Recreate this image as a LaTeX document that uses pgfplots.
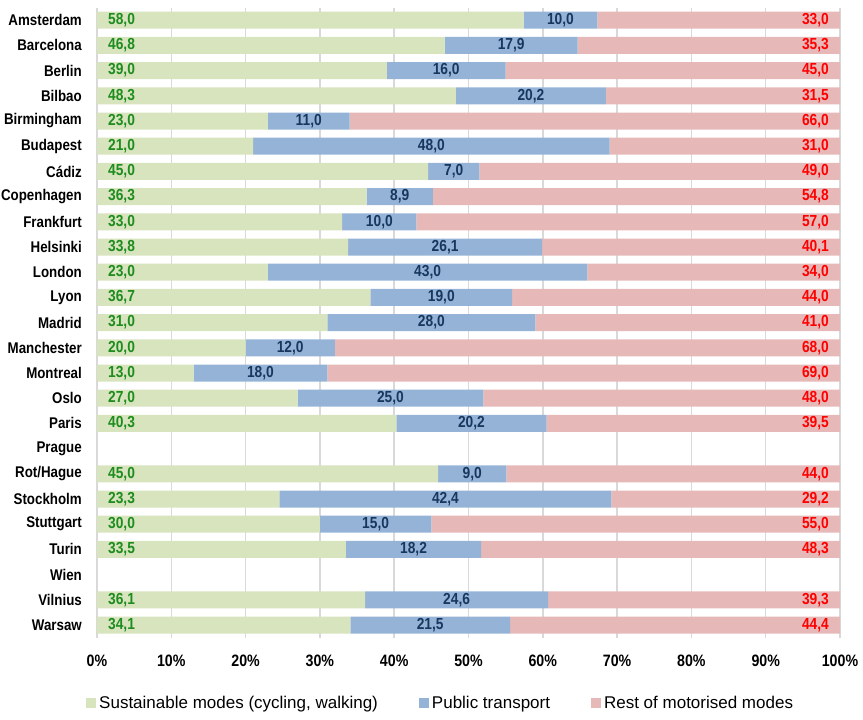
\documentclass[border=0pt]{standalone}
\usepackage{pgfplots}
\pgfplotsset{compat=1.18}
\usepackage{pgfplotstable}
\usepackage{fontspec}
\setmainfont{Liberation Sans}
\newfontfamily\nb[FakeStretch=0.86]{Liberation Sans}
\definecolor{cg}{HTML}{D7E4BD}
\definecolor{cb}{HTML}{95B3D7}
\definecolor{cr}{HTML}{E6B9B8}
\definecolor{tg}{HTML}{1E8C1E}
\definecolor{tb}{HTML}{17375E}
\definecolor{tr}{HTML}{FF0000}
\definecolor{grd}{HTML}{D9D9D9}

\pgfplotstableread{
y g b r gl bl rl
0 57.43 9.90 32.67 58,0 10,0 33,0
1 46.8 17.9 35.3 46,8 17,9 35,3
2 39.0 16.0 45.0 39,0 16,0 45,0
3 48.3 20.2 31.5 48,3 20,2 31,5
4 23.0 11.0 66.0 23,0 11,0 66,0
5 21.0 48.0 31.0 21,0 48,0 31,0
6 44.55 6.93 48.51 45,0 7,0 49,0
7 36.3 8.9 54.8 36,3 8,9 54,8
8 33.0 10.0 57.0 33,0 10,0 57,0
9 33.8 26.1 40.1 33,8 26,1 40,1
10 23.0 43.0 34.0 23,0 43,0 34,0
11 36.81 19.06 44.13 36,7 19,0 44,0
12 31.0 28.0 41.0 31,0 28,0 41,0
13 20.0 12.0 68.0 20,0 12,0 68,0
14 13.0 18.0 69.0 13,0 18,0 69,0
15 27.0 25.0 48.0 27,0 25,0 48,0
16 40.3 20.2 39.5 40,3 20,2 39,5
18 45.92 9.18 44.90 45,0 9,0 44,0
19 24.55 44.68 30.77 23,3 42,4 29,2
20 30.0 15.0 55.0 30,0 15,0 55,0
21 33.5 18.2 48.3 33,5 18,2 48,3
23 36.1 24.6 39.3 36,1 24,6 39,3
24 34.1 21.5 44.4 34,1 21,5 44,4
}\data

\pgfplotsset{base/.style={scale only axis, width=743pt, height=630pt,
  xmin=0, xmax=100, ymin=-0.5, ymax=24.5, y dir=reverse}}
\newcommand\lblfont{\nb\bfseries\fontsize{15.5}{18}\selectfont}
\newcommand\valfont{\nb\bfseries\fontsize{16}{18}\selectfont}
\newcommand\tickfont{\nb\bfseries\fontsize{16.5}{19}\selectfont}

\begin{document}
\begin{tikzpicture}
\begin{axis}[base, xbar stacked, bar width=17pt,
  axis line style={draw=none},
  tick style={draw=none},
  xtick={0,10,...,100},
  xticklabels={0\%,10\%,20\%,30\%,40\%,50\%,60\%,70\%,80\%,90\%,100\%},
  xmajorgrids, major grid style={grd, line width=1.5pt},
  xticklabel style={font=\tickfont, inner sep=0pt, yshift=-17pt},
  ytick={0,...,24},
  yticklabels={Amsterdam,Barcelona,Berlin,Bilbao,Birmingham,Budapest,C\'adiz,Copenhagen,Frankfurt,Helsinki,London,Lyon,Madrid,Manchester,Montreal,Oslo,Paris,Prague,Rot/Hague,Stockholm,Stuttgart,Turin,Wien,Vilnius,Warsaw},
  yticklabel style={font=\lblfont, inner sep=0pt, xshift=-15pt},
  legend style={at={(axis description cs:-0.0188,-0.104)}, anchor=west, draw=none,
    font=\fontsize{17}{20}\selectfont, legend columns=3,
    /tikz/every even column/.append style={column sep=39pt},
    /tikz/every odd column/.append style={column sep=1pt}},
  legend image code/.code={\fill[#1] (0pt,-5pt) rectangle (10pt,5pt);},
]
\addplot[fill=cg, draw=none] table[x=g, y=y]{\data};
\addlegendentry{Sustainable modes (cycling, walking)}
\addplot[fill=cb, draw=none] table[x=b, y=y]{\data};
\addlegendentry{Public transport}
\addplot[fill=cr, draw=none] table[x=r, y=y]{\data};
\addlegendentry{Rest of motorised modes}
\end{axis}
\begin{axis}[base, hide axis, clip=false]
\addplot[only marks, mark=none, nodes near coords,
  point meta=explicit symbolic,
  nodes near coords style={anchor=west, inner sep=0pt, xshift=11pt, text=tg, font=\valfont}]
  table[x expr=0, y=y, meta=gl]{\data};
\addplot[only marks, mark=none, nodes near coords,
  point meta=explicit symbolic,
  nodes near coords style={anchor=center, inner sep=0pt, text=tb, font=\valfont}]
  table[x expr=\thisrow{g}+\thisrow{b}/2, y=y, meta=bl]{\data};
\addplot[only marks, mark=none, nodes near coords,
  point meta=explicit symbolic,
  nodes near coords style={anchor=east, inner sep=0pt, xshift=-11pt, text=tr, font=\valfont}]
  table[x expr=100, y=y, meta=rl]{\data};
\end{axis}
\path (current axis.south west) ++(-97pt,-82.4pt) rectangle ++(863pt,720pt);
\end{tikzpicture}
\end{document}
